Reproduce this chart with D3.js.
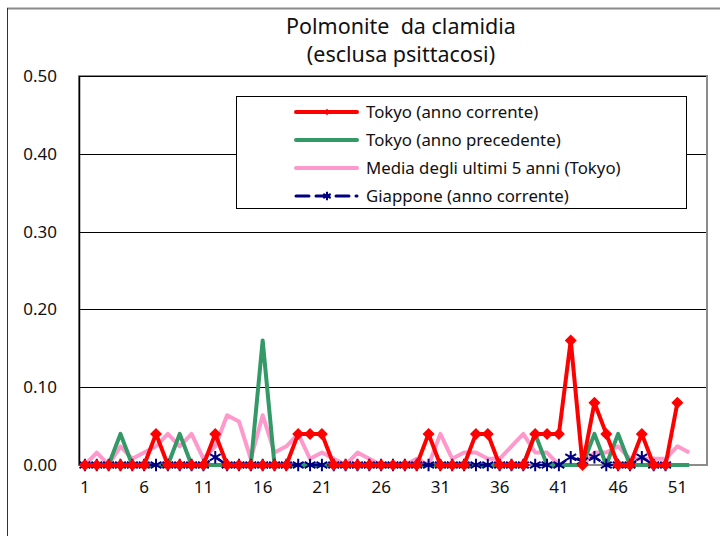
<!DOCTYPE html>
<html><head><meta charset="utf-8">
<script src="https://cdn.jsdelivr.net/npm/d3@7"></script>
<style>html,body{margin:0;padding:0;background:#fff}svg{display:block}</style>
</head><body>
<svg id="chart" width="720" height="536"></svg>
<script>
const weeks = d3.range(1, 54);
const tickWeeks = [1, 6, 11, 16, 21, 26, 31, 36, 41, 46, 51];
const yTicks = [0, 0.1, 0.2, 0.3, 0.4, 0.5];
const titleLines = ["Polmonite  da clamidia", "(esclusa psittacosi)"];
const seriesNames = ["Tokyo (anno corrente)", "Tokyo (anno precedente)", "Media degli ultimi 5 anni (Tokyo)", "Giappone (anno corrente)"];

// Tokyo current year, weeks 1-51
const tokyoCurrent = [0,0,0,0,0,0,0.04,0,0,0, 0,0.04,0,0,0,0,0,0,0.04,0.04, 0.04,0,0,0,0,0,0,0,0,0.04, 0,0,0,0.04,0.04,0,0,0,0.04,0.04, 0.04,0.16,0,0.08,0.04,0,0,0.04,0,0, 0.08];
// Tokyo previous year, weeks 1-52
const tokyoPrev = [0,0,0,0.04,0,0,0,0,0.04,0, 0,0,0,0,0,0.16,0,0,0,0, 0,0,0,0,0,0,0,0,0,0, 0,0,0,0,0,0,0,0,0.04,0, 0,0,0,0.04,0,0.04,0,0,0,0, 0,0];
// 5-year average (Tokyo), weeks 1-52
const fiveYearAvg = [0,0.016,0,0.024,0.008,0.016,0.024,0.04,0.024,0.04, 0.008,0.024,0.064,0.056,0.008,0.064,0.016,0.024,0.04,0.008, 0.016,0.008,0,0.016,0.008,0,0,0,0.008,0, 0.04,0.008,0.016,0.016,0.008,0.008,0.024,0.04,0.016,0.016, 0,0,0,0.016,0.016,0.024,0.008,0.008,0.008,0.008, 0.024,0.016];
// Japan current year, weeks 1-50
const japanCurrent = [0,0,0,0,0,0,0,0,0,0, 0,0.01,0,0,0,0,0,0,0,0, 0,0,0,0,0,0,0,0,0,0, 0,0,0,0,0,0,0,0,0,0, 0,0.01,0.005,0.01,0,0,0,0.01,0,0];

const svg = d3.select("#chart");
const FONT = "'Noto Sans', 'DejaVu Sans', sans-serif";
const L = 79, R = 707, T = 76, B = 465;

const x = d3.scaleBand().domain(weeks).range([L, R]);
const cx = w => x(w) + x.bandwidth() / 2;
const y = d3.scaleLinear().domain([0, 0.5]).range([B, T]);

svg.append("rect").attr("width", 720).attr("height", 536).attr("fill", "#fff");
// outer chart border (extends past the canvas)
svg.append("line").attr("x1", 7).attr("x2", 720).attr("y1", 8.5).attr("y2", 8.5).attr("stroke", "#8a8a8a").attr("stroke-width", 2);
svg.append("line").attr("x1", 7.5).attr("x2", 7.5).attr("y1", 8).attr("y2", 536).attr("stroke", "#333").attr("stroke-width", 1);

// title
svg.append("g").selectAll("text").data(titleLines).join("text")
  .attr("x", 401).attr("y", (d, i) => 34 + i * 28)
  .attr("text-anchor", "middle").attr("font-family", FONT).attr("font-size", 21.5)
  .style("white-space", "pre")
  .attr("fill", "#111").text(d => d);

// plot area border
svg.append("rect").attr("x", L).attr("y", T).attr("width", R - L).attr("height", B - T)
  .attr("fill", "none").attr("stroke", "#8c8c8c").attr("stroke-width", 2);

// gridlines
svg.append("g").selectAll("line").data(yTicks.filter(v => v > 0)).join("line")
  .attr("x1", L).attr("x2", R - 1).attr("y1", d => Math.round(y(d)) + 0.5).attr("y2", d => Math.round(y(d)) + 0.5)
  .attr("stroke", "#000").attr("stroke-width", 1);

// y axis
const yAxis = d3.axisLeft(y).tickValues(yTicks).tickFormat(d3.format(".2f")).tickSize(0).tickPadding(22);
const gy = svg.append("g").attr("transform", `translate(${L},0)`).call(yAxis);
gy.select(".domain").attr("stroke", "#000").attr("stroke-width", 1.5);
gy.selectAll("text").attr("font-family", FONT).attr("font-size", 17).attr("fill", "#111");

// x axis
const xAxis = d3.axisBottom(x).tickValues(tickWeeks).tickSize(0).tickPadding(16);
const gx = svg.append("g").attr("transform", `translate(0,${B})`).call(xAxis);
gx.select(".domain").remove();
gx.selectAll("text").attr("font-family", FONT).attr("font-size", 17).attr("fill", "#111");

const line = d3.line().x((d, i) => cx(weeks[i])).y(d => y(d));
const plot = svg.append("g");

// 5-year average
plot.append("path").datum(fiveYearAvg).attr("d", line).attr("fill", "none")
  .attr("stroke", "#FF99CC").attr("stroke-width", 4).attr("stroke-linejoin", "round");
// previous year
plot.append("path").datum(tokyoPrev).attr("d", line).attr("fill", "none")
  .attr("stroke", "#339966").attr("stroke-width", 4).attr("stroke-linejoin", "round");
// Japan
plot.append("path").datum(japanCurrent).attr("d", line).attr("fill", "none")
  .attr("stroke", "#000080").attr("stroke-width", 2.5).attr("stroke-dasharray", "12,7");
const star = d3.symbol().type(d3.symbolAsterisk).size(110);
plot.append("g").selectAll("path").data(japanCurrent).join("path")
  .attr("transform", (d, i) => `translate(${cx(weeks[i])},${y(d)})`)
  .attr("d", star).attr("fill", "none").attr("stroke", "#000080").attr("stroke-width", 2);
// Tokyo current
plot.append("path").datum(tokyoCurrent).attr("d", line).attr("fill", "none")
  .attr("stroke", "#FF0000").attr("stroke-width", 4).attr("stroke-linejoin", "round");
const diamond = d3.symbol().type(d3.symbolSquare).size(72);
plot.append("g").selectAll("path").data(tokyoCurrent).join("path")
  .attr("transform", (d, i) => `translate(${cx(weeks[i])},${y(d)}) rotate(45)`)
  .attr("d", diamond).attr("fill", "#FF0000");

// legend
const lg = svg.append("g");
lg.append("rect").attr("x", 236.5).attr("y", 96.5).attr("width", 450).attr("height", 112)
  .attr("fill", "#fff").attr("stroke", "#000").attr("stroke-width", 1);
const rowY = [112, 140, 168, 196];
const styles = [
  {c: "#FF0000", w: 4, dash: null, m: "diamond"},
  {c: "#339966", w: 4, dash: null, m: null},
  {c: "#FF99CC", w: 4, dash: null, m: null},
  {c: "#000080", w: 3, dash: "13,7", m: "star"}
];
seriesNames.forEach((name, i) => {
  const s = styles[i];
  lg.append("line").attr("x1", 296).attr("x2", 357).attr("y1", rowY[i]).attr("y2", rowY[i])
    .attr("stroke", s.c).attr("stroke-width", s.w).attr("stroke-linecap", "round")
    .attr("stroke-dasharray", s.dash);
  if (s.m === "diamond") {
    lg.append("path").attr("transform", `translate(327,${rowY[i]}) rotate(45)`)
      .attr("d", d3.symbol().type(d3.symbolSquare).size(20)).attr("fill", s.c);
  } else if (s.m === "star") {
    lg.append("path").attr("transform", `translate(327,${rowY[i]})`)
      .attr("d", d3.symbol().type(d3.symbolAsterisk).size(50)).attr("fill", "none")
      .attr("stroke", s.c).attr("stroke-width", 2);
  }
  lg.append("text").attr("x", 366).attr("y", rowY[i]).attr("dy", "0.35em")
    .attr("font-family", FONT).attr("font-size", 16.8).attr("fill", "#111").text(name);
});
</script>
</body></html>
